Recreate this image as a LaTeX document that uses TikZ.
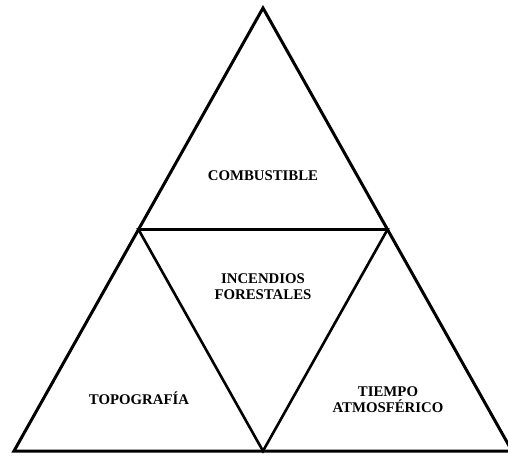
\documentclass[tikz,border=0pt]{standalone}
\usepackage{fontspec}
\setmainfont{Liberation Serif}
\usetikzlibrary{calc}

\begin{document}
\begin{tikzpicture}[x=1pt, y=-1pt,
    label/.style={font=\bfseries\fontsize{14.8}{16}\selectfont, align=center}]
    \useasboundingbox (0, 0) rectangle (508, 455);
    \clip (0, 0) rectangle (508, 455);
    \coordinate (apex) at (263, 8);
    \coordinate (left) at (14, 451);
    \coordinate (right) at (512, 451);
    \coordinate (ml) at ($(apex)!0.5!(left)$);
    \coordinate (mr) at ($(apex)!0.5!(right)$);
    \coordinate (mb) at ($(left)!0.5!(right)$);
    \draw[line width=3pt] (apex) -- (left) -- (right) -- cycle;
    \draw[line width=2.6pt] (ml) -- (mr) -- (mb) -- cycle;
    \node[label] (fuel) at (263, 176) {COMBUSTIBLE};
    \node[label] (fire) at (263, 287) {INCENDIOS\\FORESTALES};
    \node[label] (topo) at (139, 398) {TOPOGRAFÍA};
    \node[label] (weather) at (388, 400) {TIEMPO\\ATMOSFÉRICO};
\end{tikzpicture}
\end{document}
